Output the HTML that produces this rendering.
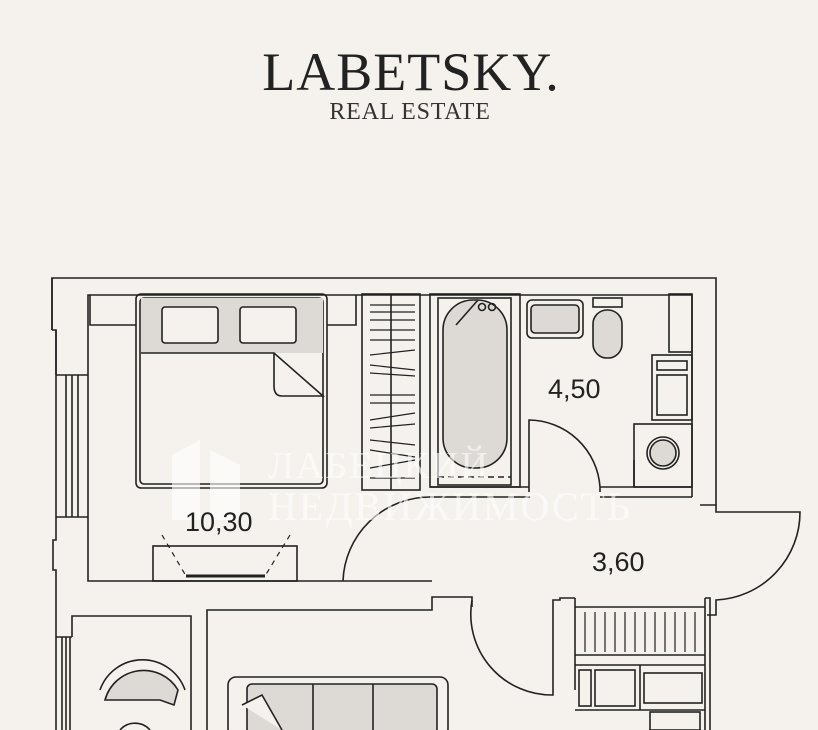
<!DOCTYPE html>
<html><head><meta charset="utf-8"><style>
html,body{margin:0;padding:0;background:#f5f2ee;}
svg{display:block}
</style></head><body>
<svg width="818" height="730" viewBox="0 0 818 730" xmlns="http://www.w3.org/2000/svg">
<rect width="818" height="730" fill="#f5f2ee"/>
<text x="411" y="90" text-anchor="middle" font-family="Liberation Serif, serif" font-size="54" fill="#222" letter-spacing="1">LABETSKY.</text>
<text x="410" y="119" text-anchor="middle" font-family="Liberation Serif, serif" font-size="24" fill="#333" letter-spacing="0.8">REAL ESTATE</text>

<g fill="none" stroke="#222" stroke-width="1.6">
<path d="M52 330 V278 H716 V505 H700"/>
<path d="M52 330 h4 v45 M52 330 V278"/>
<path d="M56 375 V330 M56 517 V540 h-3 v30 h3 v67"/>
<path d="M88 517 V295 H692 V497"/>
<path d="M56 375 H88 M56 517 H88 M56 375 V517 M66 375 V517 M72 375 V517 M78 375 V517"/>
<path d="M56 637 V730 M62 637 V730 M66 637 V730 M70 637 V730 M56 637 H72"/>
<path d="M88 517 V581 H432"/>
<path d="M72 637 V616 H191 V730 M207 730 V610 H432 V597 H472 V607"/>
<path d="M90 295 V325 H136 M327 325 H356 V295"/>
<rect x="136" y="294" width="191" height="194" rx="5"/>
<rect x="140" y="298" width="183" height="186" rx="4"/>
<rect x="141" y="298" width="182" height="55" fill="#ddd9d5" stroke="none"/>
<path d="M141 353 H274 L323 396 H282 Q274 396 274 386 V353" fill="#f5f2ee"/>
<rect x="162" y="307" width="56" height="36" rx="3" fill="#f5f2ee"/>
<rect x="240" y="307" width="56" height="36" rx="3" fill="#f5f2ee"/>
<rect x="362" y="294" width="58" height="196"/>
<path d="M391 294 V490"/>
<g stroke-width="1.2">
<path d="M370 305h45M370 312h45M370 320h45M370 330h45M370 340h45M370 355l45-5M370 365l45 5M370 373l45 3M370 395h45M370 403h45M370 420l45-7M370 428l45-4M370 440l45 5M370 450l45 7M370 468l45-8M370 478h45"/>
</g>
<rect x="430" y="294" width="90" height="193"/>
<rect x="438" y="298" width="73" height="187"/>
<rect x="443" y="300" width="64" height="168" rx="30" fill="#ddd9d5"/>
<path d="M456 325 L478 300"/>
<circle cx="482" cy="307" r="3.5"/><circle cx="492" cy="307" r="3.5"/>
<path d="M438 477 H511" stroke-dasharray="6 4"/>
<path d="M430 487 H529 M529 492 V420 A72 72 0 0 1 600 487 V492 M600 487 H692 M430 497 H530 M600 497 H692"/>
<rect x="527" y="300" width="56" height="38" rx="5"/>
<rect x="531" y="305" width="48" height="28" rx="4" fill="#ddd9d5"/>
<rect x="593" y="298" width="29" height="9"/>
<rect x="593" y="310" width="29" height="48" rx="14" fill="#ddd9d5"/>
<rect x="669" y="294" width="23" height="58"/>
<rect x="652" y="355" width="40" height="65"/>
<rect x="657" y="361" width="30" height="9"/><rect x="657" y="375" width="30" height="40"/>
<rect x="634" y="424" width="58" height="63"/>
<circle cx="663" cy="453" r="16"/><circle cx="663" cy="453" r="13" fill="#ddd9d5"/>
<path d="M634 460 V487"/>
<path d="M343 581 A87 87 0 0 1 430 497" />
<rect x="153" y="546" width="144" height="35"/>
<path d="M186 576 H265" stroke-width="3"/>
<path d="M162 535 L186 576 M290 535 L265 576" stroke-dasharray="5 5" stroke-width="1.2"/>
<path d="M716 505 V512 H800 A88 88 0 0 1 716 600 V615 H707"/>
<path d="M472 600 A81 81 0 0 0 553 695 V600 H560 V598 H575"/>
<path d="M575 598 V690 M575 607 H705 M705 598 V730 M575 655 H705 M575 665 H705 M575 710 H705 M705 598 H710 V730 M640 665 V710"/>
<g stroke-width="1.2"><path d="M585 612v40M595 612v40M605 612v40M615 612v40M625 612v40M635 612v40M645 612v40M655 612v40M665 612v40M675 612v40M685 612v40M695 612v40"/></g>
<rect x="579" y="670" width="12" height="36"/><rect x="595" y="670" width="40" height="36"/><rect x="644" y="673" width="58" height="30"/>
<rect x="650" y="712" width="50" height="18"/>
<rect x="228" y="677" width="220" height="60" rx="8"/>
<rect x="247" y="684" width="190" height="50" rx="5" fill="#ddd9d5"/>
<path d="M313 684 V730 M373 684 V730"/>
<path d="M242 705 L262 695 L282 730" fill="#f5f2ee"/>
<path d="M105 700 A40 40 0 0 1 178 690 L174 705 L160 700 Z" fill="#ddd9d5"/>
<path d="M100 690 A45 45 0 0 1 185 690"/>
<path d="M120 730 A20 20 0 0 1 150 730"/>
</g>
<g fill="#ffffff" opacity="0.6" font-family="Liberation Serif, serif">
<text x="268" y="478" font-size="38" letter-spacing="2">ЛАБЕЦКИЙ</text>
<text x="268" y="520" font-size="40" letter-spacing="2">НЕДВИЖИМОСТЬ</text>
<path d="M172 520 V455 L200 440 V520 Z M210 520 V450 L240 465 V520 Z"/>
</g>
<g font-family="Liberation Sans, sans-serif" font-size="27" fill="#222">
<text x="185" y="531">10,30</text>
<text x="548" y="398">4,50</text>
<text x="592" y="571">3,60</text>
</g>
</svg>
</body></html>
